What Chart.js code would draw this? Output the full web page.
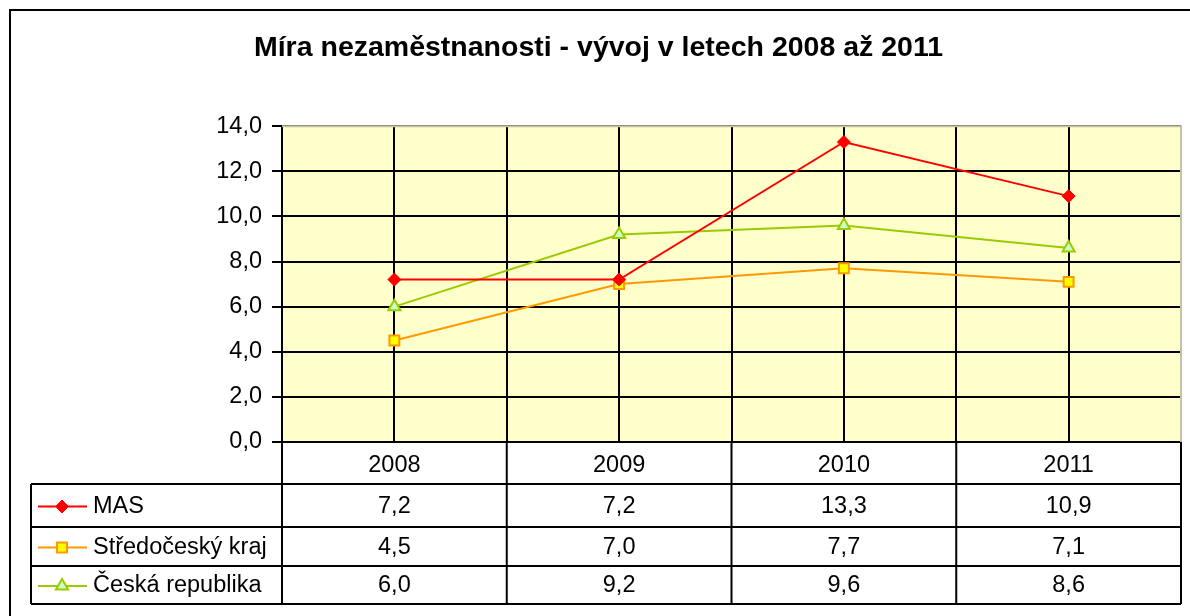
<!DOCTYPE html>
<html lang="cs">
<head>
  <meta charset="UTF-8">
  <title>Míra nezaměstnanosti</title>
  <style>
    body {
      margin: 0;
      background: #fff;
    }
    .wrap {
      width: 1190px;
      height: 616px;
      position: relative;
    }
  </style>
</head>
<body>
  <div class="wrap"><canvas id="chart"></canvas></div>

  <script src="https://cdn.jsdelivr.net/npm/chart.js@4.4.1/dist/chart.umd.min.js"></script>
  <script>
    // data
    const years = ['2008', '2009', '2010', '2011'];
    const seriesNames = ['MAS', 'Středočeský kraj', 'Česká republika'];
    const masValues = [7.2, 7.2, 13.3, 10.9];
    const stredoceskyValues = [4.5, 7.0, 7.7, 7.1];
    const crValues = [6.0, 9.2, 9.6, 8.6];
    const yMin = 0, yMax = 14, yStep = 2;

    const FONT = 'Arial, "Liberation Sans", sans-serif';

    function fmt(v) {
      return v.toFixed(1).replace('.', ',');
    }

    // Excel-ish frame, plot background and the data table under the axis
    const excelLook = {
      id: 'excelLook',
      beforeDraw(chart) {
        const { ctx, chartArea: a } = chart;
        ctx.save();
        ctx.fillStyle = '#FFFFCC';
        ctx.fillRect(a.left, a.top, a.right - a.left, a.bottom - a.top);
        ctx.restore();
      },
      afterDraw(chart) {
        const { ctx, chartArea: a } = chart;
        const x = chart.scales.x;
        const ds = chart.data.datasets;
        ctx.save();

        // outer border of the whole chart object
        ctx.strokeStyle = '#000';
        ctx.lineWidth = 2;
        ctx.strokeRect(10, 10, 1300, 800);

        // plot area top/right border (grey)
        ctx.strokeStyle = '#c4c4a4';
        ctx.lineWidth = 2;
        ctx.beginPath();
        ctx.moveTo(a.left, a.top);
        ctx.lineTo(a.right, a.top);
        ctx.lineTo(a.right, a.bottom);
        ctx.stroke();

        // data table
        const tableLeft = 31;
        const headTop = a.bottom;
        const rowLines = [484, 527, 566, 604];
        const colW = (a.right - a.left) / years.length;

        ctx.strokeStyle = '#000';
        ctx.lineWidth = 2;
        ctx.beginPath();
        rowLines.forEach(y => {
          ctx.moveTo(tableLeft, y);
          ctx.lineTo(a.right, y);
        });
        ctx.moveTo(tableLeft, rowLines[0]);
        ctx.lineTo(tableLeft, rowLines[rowLines.length - 1]);
        for (let i = 0; i <= years.length; i++) {
          const cx = a.left + i * colW;
          ctx.moveTo(cx, headTop);
          ctx.lineTo(cx, rowLines[rowLines.length - 1]);
        }
        ctx.stroke();

        ctx.font = '23.5px ' + FONT;
        ctx.fillStyle = '#000';
        ctx.textBaseline = 'middle';
        ds.forEach((d, r) => {
          const cy = (rowLines[r] + rowLines[r + 1]) / 2 + 1;
          // legend key
          ctx.strokeStyle = d.borderColor;
          ctx.lineWidth = 2;
          ctx.beginPath();
          ctx.moveTo(38, cy);
          ctx.lineTo(87, cy);
          ctx.stroke();
          ctx.fillStyle = d.pointBackgroundColor;
          ctx.strokeStyle = d.pointBorderColor;
          ctx.lineWidth = d.pointBorderWidth;
          Chart.helpers.drawPoint(ctx, {
            pointStyle: d.pointStyle,
            radius: d.pointRadius,
            rotation: 0,
            borderWidth: d.pointBorderWidth
          }, 62, cy);

          ctx.fillStyle = '#000';
          ctx.textAlign = 'left';
          ctx.fillText(d.label, 93, cy);
          ctx.textAlign = 'center';
          d.data.forEach((v, i) => {
            ctx.fillText(fmt(v), x.getPixelForValue(i), cy);
          });
        });
        ctx.restore();
      }
    };

    const ctx = document.getElementById('chart').getContext('2d');
    new Chart(ctx, {
      type: 'line',
      data: {
        labels: years,
        datasets: [
          {
            label: seriesNames[0],
            data: masValues,
            borderColor: '#FF0000',
            borderWidth: 2,
            pointStyle: 'rectRot',
            pointRadius: 6.5,
            pointBackgroundColor: '#FF0000',
            pointBorderColor: '#FF0000',
            pointBorderWidth: 1
          },
          {
            label: seriesNames[1],
            data: stredoceskyValues,
            borderColor: '#FF9900',
            borderWidth: 2,
            pointStyle: 'rect',
            pointRadius: 7,
            pointBackgroundColor: '#FFFF00',
            pointBorderColor: '#FF9900',
            pointBorderWidth: 2
          },
          {
            label: seriesNames[2],
            data: crValues,
            borderColor: '#99CC00',
            borderWidth: 2,
            pointStyle: 'triangle',
            pointRadius: 7,
            pointBackgroundColor: '#CCFFCC',
            pointBorderColor: '#99CC00',
            pointBorderWidth: 2
          }
        ]
      },
      options: {
        responsive: true,
        maintainAspectRatio: false,
        animation: false,
        layout: {
          padding: { left: 13, right: 6, top: 0, bottom: 132 }
        },
        plugins: {
          legend: { display: false },
          tooltip: { enabled: false },
          title: {
            display: true,
            text: 'Míra nezaměstnanosti - vývoj v letech 2008 až 2011',
            color: '#000',
            font: { family: FONT, size: 28.5, weight: 'bold' },
            padding: { top: 31, bottom: 61 }
          }
        },
        scales: {
          x: {
            type: 'category',
            offset: true,
            grid: {
              offset: true,
              color: '#000',
              lineWidth: 2,
              drawTicks: false
            },
            border: { display: true, color: '#000', width: 2 },
            ticks: {
              color: '#000',
              font: { family: FONT, size: 23.5 },
              padding: 9,
              maxRotation: 0
            },
            afterFit(scale) {
              scale.height = 42;
            }
          },
          xc: {
            type: 'category',
            position: 'top',
            offset: true,
            grid: {
              offset: false,
              color: '#000',
              lineWidth: 2,
              drawTicks: false
            },
            border: { display: false },
            ticks: { display: false },
            afterFit(scale) {
              scale.height = 0;
            }
          },
          y: {
            min: yMin,
            max: yMax,
            grid: {
              color: '#000',
              lineWidth: 2,
              tickLength: 10,
              tickColor: '#000'
            },
            border: { display: true, color: '#000', width: 2 },
            ticks: {
              stepSize: yStep,
              color: '#000',
              padding: 10,
              font: { family: FONT, size: 23.5 },
              callback: v => fmt(v)
            },
            afterFit(scale) {
              scale.width = 282 - 13;
            }
          }
        }
      },
      plugins: [excelLook]
    });
  </script>
</body>
</html>
